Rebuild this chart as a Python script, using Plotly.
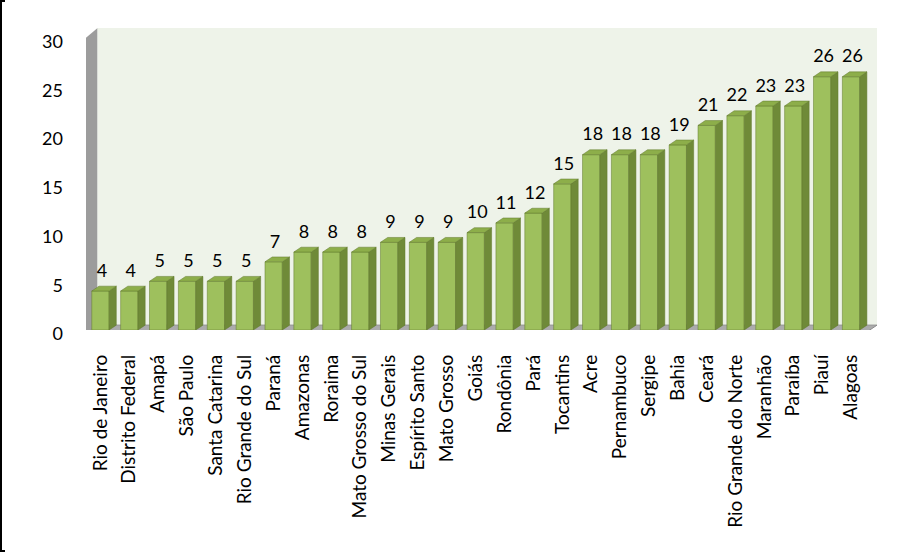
import plotly.graph_objects as go

states = ["Rio de Janeiro", "Distrito Federal", "Amapá", "São Paulo", "Santa Catarina",
          "Rio Grande do Sul", "Paraná", "Amazonas", "Roraima", "Mato Grosso do Sul",
          "Minas Gerais", "Espírito Santo", "Mato Grosso", "Goiás", "Rondônia", "Pará",
          "Tocantins", "Acre", "Pernambuco", "Sergipe", "Bahia", "Ceará",
          "Rio Grande do Norte", "Maranhão", "Paraíba", "Piauí", "Alagoas"]
values = [4, 4, 5, 5, 5, 5, 7, 8, 8, 8, 9, 9, 9, 10, 11, 12, 15, 18, 18, 18, 19, 21, 22, 23, 23, 26, 26]
y_ticks = [0, 5, 10, 15, 20, 25, 30]

W, H = 922, 552
ML, MR, MT, MB = 86, 45, 28, 222
n = len(states)
xs = list(range(n))
X0, X1 = -0.5, n - 0.5 + 0.4
Y0, Y1 = 0, 31
BW = 0.6      # bar front width
DX, DY = 0.25, 0.5   # 3D depth offsets (data units)
WDX, WDY = 0.4, 0.8  # wall depth

FONT = "Lato, Calibri, Open Sans, sans-serif"
front_col = "#9EC05D"
side_col = "#6F8A38"
top_col = "#8DAE4A"
edge_col = "#61792C"

shapes = []
# left wall
shapes.append(dict(type="path", xref="x", yref="y", layer="below",
                   path=f"M {X0},{-0.3} L {X0},{30} L {X0+WDX},{Y1} L {X0+WDX},{WDY-0.3} Z",
                   fillcolor="#9C9C9C", line=dict(width=0)))
# back wall
shapes.append(dict(type="rect", xref="x", yref="y", layer="below",
                   x0=X0 + WDX, x1=X1, y0=WDY - 0.3, y1=Y1,
                   fillcolor="#EEF3E9", line=dict(width=0)))
# floor
shapes.append(dict(type="path", xref="x", yref="y", layer="below",
                   path=f"M {X0},{-0.3} L {X1-WDX},{-0.3} L {X1},{WDY-0.3} L {X0+WDX},{WDY-0.3} Z",
                   fillcolor="#ABABAB", line=dict(color="#8C8C8C", width=1)))

# 3D faces of bars
for x, v in zip(xs, values):
    xr = x + BW / 2
    xl = x - BW / 2
    shapes.append(dict(type="path", xref="x", yref="y",
                       path=f"M {xr},{0} L {xr},{v} L {xr+DX},{v+DY} L {xr+DX},{DY} Z",
                       fillcolor=side_col, line=dict(color=edge_col, width=0.5)))
    shapes.append(dict(type="path", xref="x", yref="y",
                       path=f"M {xl},{v} L {xr},{v} L {xr+DX},{v+DY} L {xl+DX},{v+DY} Z",
                       fillcolor=top_col, line=dict(color=edge_col, width=0.5)))

# image frame: black edge on the left only (other sides covered in white)
pw = W - ML - MR
ph = H - MT - MB
fx0, fx1 = (1 - ML) / pw, (pw + MR - 1) / pw
fy0, fy1 = (1 - MB) / ph, (ph + MT - 1) / ph
shapes.append(dict(type="rect", xref="paper", yref="paper",
                   x0=fx0, x1=fx1, y0=fy0, y1=fy1,
                   line=dict(color="black", width=2), fillcolor="rgba(0,0,0,0)"))
for s in [dict(x0=fx1, x1=fx1, y0=fy0 - 0.05, y1=fy1 + 0.05),
          dict(x0=fx0 + 4 / pw, x1=fx1 + 0.05, y0=fy0, y1=fy0),
          dict(x0=fx0 + 4 / pw, x1=fx1 + 0.05, y0=fy1, y1=fy1)]:
    shapes.append(dict(type="line", xref="paper", yref="paper",
                       line=dict(color="white", width=7), **s))

fig = go.Figure()
fig.add_trace(go.Bar(x=xs, y=values, width=BW,
                     marker=dict(color=front_col, line=dict(color=edge_col, width=0.5)),
                     hoverinfo="x+y", showlegend=False))
fig.add_trace(go.Scatter(x=[x + 0.05 for x in xs], y=[v + DY + 0.5 for v in values],
                         mode="text", text=[str(v) for v in values],
                         textposition="top center",
                         textfont=dict(family=FONT, size=18, color="black"),
                         showlegend=False, hoverinfo="skip"))

fig.update_layout(
    width=W, height=H,
    margin=dict(l=ML, r=MR, t=MT, b=MB),
    paper_bgcolor="white", plot_bgcolor="white",
    shapes=shapes,
    font=dict(family=FONT, size=18, color="black"),
    xaxis=dict(range=[X0, X1], tickvals=xs, ticktext=states, tickangle=-90,
               showgrid=False, zeroline=False, showline=False, ticks="",
               ticklabelstandoff=20, tickfont=dict(size=19)),
    yaxis=dict(range=[Y0, Y1], tickvals=y_ticks, showgrid=False, zeroline=False,
               showline=False, ticks="", ticklabelstandoff=22, ticklabelshift=4,
               tickfont=dict(size=18)),
)

fig.write_html("out.html")
